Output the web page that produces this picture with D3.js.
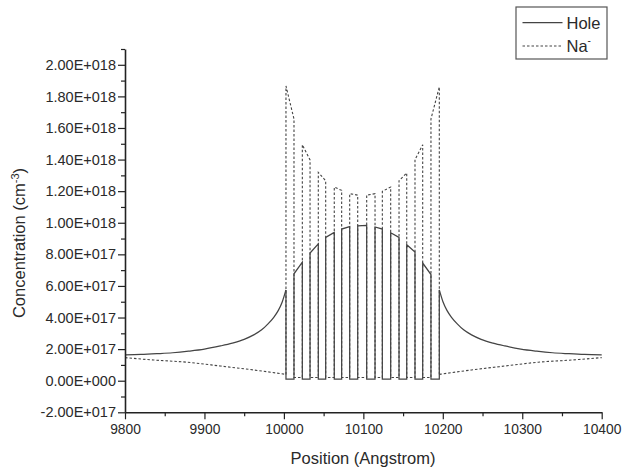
<!DOCTYPE html>
<html>
<head>
<meta charset="utf-8">
<script src="https://cdn.jsdelivr.net/npm/d3@7"></script>
<style>
  html, body { margin: 0; padding: 0; background: #fff; }
  svg { display: block; }
  text { font-family: "Liberation Sans", Arial, sans-serif; fill: #2a2a2a; }
</style>
</head>
<body>
<svg id="chart" width="629" height="472"></svg>
<script>
// ---------- data (concentrations in units of 1e18 cm^-3) ----------
const xTickValues = [9800, 9900, 10000, 10100, 10200, 10300, 10400];
const xTickLabels = ["9800", "9900", "10000", "10100", "10200", "10300", "10400"];
const yTickValues = [-0.2, 0, 0.2, 0.4, 0.6, 0.8, 1.0, 1.2, 1.4, 1.6, 1.8, 2.0];
const yTickLabels = ["-2.00E+017", "0.00E+000", "2.00E+017", "4.00E+017", "6.00E+017",
  "8.00E+017", "1.00E+018", "1.20E+018", "1.40E+018", "1.60E+018", "1.80E+018", "2.00E+018"];

// layer boundaries (Angstrom): Na-rich layer starts/ends alternate with hole layers
const layerBoundaries = [10002.6, 10012.7, 10023.2, 10032.9, 10043.3, 10052.6, 10063.4, 10072.7,
  10082.8, 10092.9, 10104.2, 10114.7, 10123.9, 10134.4, 10144.9, 10154.6, 10165.0, 10174.7,
  10185.1, 10195.6];

// Na- peaks inside the 10 Na layers (value at layer start / layer end)
const naPeakStart = [1.866, 1.494, 1.319, 1.226, 1.184, 1.175, 1.199, 1.266, 1.400, 1.657];
const naPeakEnd   = [1.657, 1.398, 1.266, 1.205, 1.175, 1.184, 1.226, 1.315, 1.494, 1.860];
const naLow = 0.02;

// hole peaks inside the 9 hole layers
const holePeakStart = [0.677, 0.808, 0.907, 0.960, 0.981, 0.973, 0.937, 0.861, 0.745];
const holePeakEnd   = [0.751, 0.866, 0.939, 0.975, 0.983, 0.960, 0.907, 0.815, 0.672];
const holeLow = 0.01;

// outer tails
const holeLeftX  = [9800, 9820, 9840, 9860, 9880, 9900, 9920, 9935, 9950, 9962, 9972, 9980, 9987, 9993, 9998, 10002.6];
const holeLeftY  = [0.163, 0.166, 0.171, 0.177, 0.187, 0.200, 0.220, 0.238, 0.262, 0.290, 0.322, 0.360, 0.400, 0.445, 0.500, 0.575];
const holeRightX = [10195.6, 10200.2, 10205.2, 10211.2, 10218.2, 10226.2, 10236.2, 10248.2, 10263.2, 10278.2, 10298.2, 10318.2, 10338.2, 10358.2, 10378.2, 10400];
const holeRightY = [0.575, 0.500, 0.445, 0.400, 0.360, 0.322, 0.290, 0.262, 0.238, 0.220, 0.200, 0.187, 0.177, 0.171, 0.166, 0.163];
const naLeftX  = [9800, 9836, 9878, 9920, 9962, 10002.6];
const naLeftY  = [0.146, 0.131, 0.117, 0.093, 0.068, 0.040];
const naRightX = [10195.6, 10236, 10278, 10320, 10362, 10400];
const naRightY = [0.040, 0.068, 0.093, 0.117, 0.131, 0.146];

// ---------- build series ----------
const nNa = naPeakStart.length;
const naMid = [];
for (let k = 0; k < nNa; k++) {
  const s = layerBoundaries[2 * k], e = layerBoundaries[2 * k + 1];
  naMid.push([s, k === 0 ? naLeftY[naLeftY.length - 1] : naLow]);
  naMid.push([s, naPeakStart[k]], [e, naPeakEnd[k]]);
  naMid.push([e, k === nNa - 1 ? naRightY[0] : naLow]);
}
const holeMid = [[layerBoundaries[0], holeLeftY[holeLeftY.length - 1]]];
for (let k = 0; k < nNa; k++) {
  const s = layerBoundaries[2 * k], e = layerBoundaries[2 * k + 1];
  holeMid.push([s, holeLow], [e, holeLow]);
  if (k < nNa - 1) {
    const ns = layerBoundaries[2 * k + 2];
    holeMid.push([e, holePeakStart[k]], [ns, holePeakEnd[k]]);
  }
}
holeMid.push([layerBoundaries[layerBoundaries.length - 1], holeRightY[0]]);

const holeLeft = holeLeftX.map((v, i) => [v, holeLeftY[i]]);
const holeRight = holeRightX.map((v, i) => [v, holeRightY[i]]);
const naLeft = naLeftX.map((v, i) => [v, naLeftY[i]]);
const naRight = naRightX.map((v, i) => [v, naRightY[i]]);

// ---------- layout ----------
const svg = d3.select("#chart");
const mLeft = 125, mRight = 601.7, mTop = 49, mBottom = 412.3;
const x = d3.scaleLinear().domain([9800, 10400]).range([mLeft, mRight]);
const y = d3.scaleLinear().domain([-0.2, 2.1]).range([mBottom, mTop]);

const lineLin = d3.line().x(d => x(d[0])).y(d => y(d[1]));
const lineSmooth = d3.line().x(d => x(d[0])).y(d => y(d[1])).curve(d3.curveMonotoneX);

const naStyle = p => p.attr("fill", "none").attr("stroke", "#444").attr("stroke-width", 1.1)
  .attr("stroke-dasharray", "2.5,2");
const holeStyle = p => p.attr("fill", "none").attr("stroke", "#444").attr("stroke-width", 1.25);

svg.append("path").datum(naLeft).attr("d", lineSmooth).call(naStyle);
svg.append("path").datum(naMid).attr("d", lineLin).call(naStyle);
svg.append("path").datum(naRight).attr("d", lineSmooth).call(naStyle);
svg.append("path").datum(holeLeft).attr("d", lineSmooth).call(holeStyle);
svg.append("path").datum(holeMid).attr("d", lineLin).call(holeStyle);
svg.append("path").datum(holeRight).attr("d", lineSmooth).call(holeStyle);

// ---------- axes ----------
const axisColor = "#222";
const xMinor = [9850, 9950, 10050, 10150, 10250, 10350];
svg.append("g").attr("transform", `translate(0,${mBottom})`)
  .call(d3.axisBottom(x).tickValues(xMinor).tickSize(4).tickFormat(""))
  .call(g => g.select(".domain").remove())
  .call(g => g.selectAll("line").attr("stroke", axisColor).attr("stroke-width", 1.2));
const gx = svg.append("g").attr("transform", `translate(0,${mBottom})`)
  .call(d3.axisBottom(x).tickValues(xTickValues).tickSize(7).tickSizeOuter(0)
    .tickPadding(5).tickFormat((d, i) => xTickLabels[i]));
gx.select(".domain").attr("stroke", axisColor).attr("stroke-width", 1.6);
gx.selectAll("line").attr("stroke", axisColor).attr("stroke-width", 1.2);
gx.selectAll("text").attr("font-size", 13.8).attr("fill", "#2a2a2a")
  .attr("font-family", "Liberation Sans, Arial, sans-serif");

const yMinor = [-0.1, 0.1, 0.3, 0.5, 0.7, 0.9, 1.1, 1.3, 1.5, 1.7, 1.9, 2.1];
svg.append("g").attr("transform", `translate(${mLeft},0)`)
  .call(d3.axisLeft(y).tickValues(yMinor).tickSize(4).tickFormat(""))
  .call(g => g.select(".domain").remove())
  .call(g => g.selectAll("line").attr("stroke", axisColor).attr("stroke-width", 1.2));
const gy = svg.append("g").attr("transform", `translate(${mLeft},0)`)
  .call(d3.axisLeft(y).tickValues(yTickValues).tickSize(7).tickSizeOuter(0)
    .tickPadding(2).tickFormat((d, i) => yTickLabels[i]));
gy.select(".domain").attr("stroke", axisColor).attr("stroke-width", 1.6);
gy.selectAll("line").attr("stroke", axisColor).attr("stroke-width", 1.2);
gy.selectAll("text").attr("font-size", 14.5).attr("fill", "#2a2a2a")
  .attr("font-family", "Liberation Sans, Arial, sans-serif");

// ---------- axis titles ----------
svg.append("text").attr("x", 363).attr("y", 464)
  .attr("text-anchor", "middle").attr("font-size", 16.5).text("Position (Angstrom)");

const yt = svg.append("text").attr("transform", "translate(25,243) rotate(-90)")
  .attr("text-anchor", "middle").attr("font-size", 16.5);
yt.append("tspan").text("Concentration (cm");
yt.append("tspan").attr("font-size", 11).attr("dy", -6).text("-3");
yt.append("tspan").attr("dy", 6).text(")");

// ---------- legend ----------
const lg = svg.append("g");
lg.append("rect").attr("x", 516).attr("y", 7).attr("width", 91).attr("height", 52)
  .attr("fill", "#fff").attr("stroke", "#555").attr("stroke-width", 1.2);
lg.append("line").attr("x1", 522.5).attr("x2", 562.5).attr("y1", 22.7).attr("y2", 22.7)
  .attr("stroke", "#444").attr("stroke-width", 1.25);
lg.append("text").attr("x", 566.5).attr("y", 28.5).attr("font-size", 16.5).text("Hole");
lg.append("line").attr("x1", 522.5).attr("x2", 562.5).attr("y1", 46).attr("y2", 46)
  .attr("stroke", "#444").attr("stroke-width", 1.1).attr("stroke-dasharray", "2.5,2");
const na = lg.append("text").attr("x", 566.5).attr("y", 52).attr("font-size", 16.5);
na.append("tspan").text("Na");
na.append("tspan").attr("font-size", 10).attr("dy", -8).text("-");
</script>
</body>
</html>
